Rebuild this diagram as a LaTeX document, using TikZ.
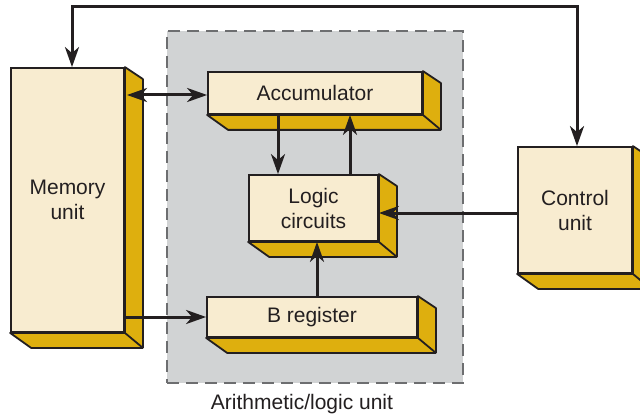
\documentclass[tikz,border=0pt]{standalone}
\usepackage{fontspec}
\setmainfont{Liberation Sans}
\usetikzlibrary{arrows.meta,calc}
\definecolor{cream}{HTML}{F8ECD0}
\definecolor{gold}{HTML}{DEAF0E}
\definecolor{panel}{HTML}{D1D3D4}
\definecolor{ink}{HTML}{231F20}
\definecolor{dashgray}{HTML}{6D6E70}

\tikzset{
  unitbox/.style={draw=ink, line width=1.8pt, fill=cream, inner sep=0pt,
    align=center, text=ink, font=\fontsize{21}{25}\selectfont},
  depthface/.style={draw=ink, line width=1.8pt, fill=gold, line join=round},
  wire/.style={draw=ink, line width=3pt},
  headtip/.style={arrows={-Stealth[length=20pt,width=14pt,inset=6pt]}},
  bothtips/.style={arrows={Stealth[length=20pt,width=14pt,inset=6pt]-Stealth[length=20pt,width=14pt,inset=6pt]}},
  captiontext/.style={text=ink, font=\fontsize{21}{25}\selectfont},
}

% right and bottom faces of a raised block
\newcommand\drawdepth[1]{%
  \draw[depthface] (#1.north east) -- ++(18,12) -- ($(#1.south east)+(18,15)$)
    -- ($(#1.south west)+(21,15)$) -- (#1.south west) -- (#1.south east) -- cycle;
  \draw[depthface] (#1.south east) -- ++(18,15);}

\begin{document}
\begin{tikzpicture}[x=1pt,y=-1pt]
\useasboundingbox (0,0) rectangle (640,417);
\clip (0,0) rectangle (640,417);
\fill[white] (0,0) rectangle (640,417);

% arithmetic/logic unit panel
\node[draw=dashgray, fill=panel, line width=2pt, dash pattern=on 12pt off 7pt,
  minimum width=296pt, minimum height=352pt, inner sep=0pt] (alu) at (315,207) {};
\node[captiontext] (alulabel) at (302,404) {Arithmetic/logic unit};

% blocks
\node[unitbox, minimum width=113pt, minimum height=264pt] (mem) at (67.5,200) {Memory\\unit};
\drawdepth{mem}
\node[unitbox, minimum width=214pt, minimum height=42pt] (acc) at (315,93) {Accumulator};
\drawdepth{acc}
\node[unitbox, minimum width=129pt, minimum height=66pt] (logic) at (313.5,208) {Logic\\circuits};
\drawdepth{logic}
\node[unitbox, minimum width=210pt, minimum height=40pt] (breg) at (312,317) {B register};
\drawdepth{breg}
\node[unitbox, minimum width=114pt, minimum height=126pt] (ctrl) at (575,210) {Control\\unit};
\drawdepth{ctrl}

% wiring
\coordinate (tl) at (72,7);
\coordinate (tr) at (577,7);
\coordinate (ya) at (127,95);
\coordinate (xd) at (278,0);
\coordinate (xu) at (350,0);
\coordinate (xb) at (317,0);
\coordinate (yc) at (0,213);

\draw[wire,bothtips] (mem.north -| tl) -- (tl) -- (tr) -- (ctrl.north -| tr);
\draw[wire,bothtips] (ya) -- (acc.west |- ya);
\draw[wire,headtip] (acc.south -| xd) -- (logic.north -| xd);
\draw[wire,headtip] (logic.north -| xu) -- (acc.south -| xu);
\draw[wire,headtip] (ctrl.west |- yc) -- (logic.east |- yc);
\draw[wire,headtip] (breg.north -| xb) -- (logic.south -| xb);
\draw[wire,headtip] (mem.east |- breg.west) -- (breg.west);
\end{tikzpicture}
\end{document}
